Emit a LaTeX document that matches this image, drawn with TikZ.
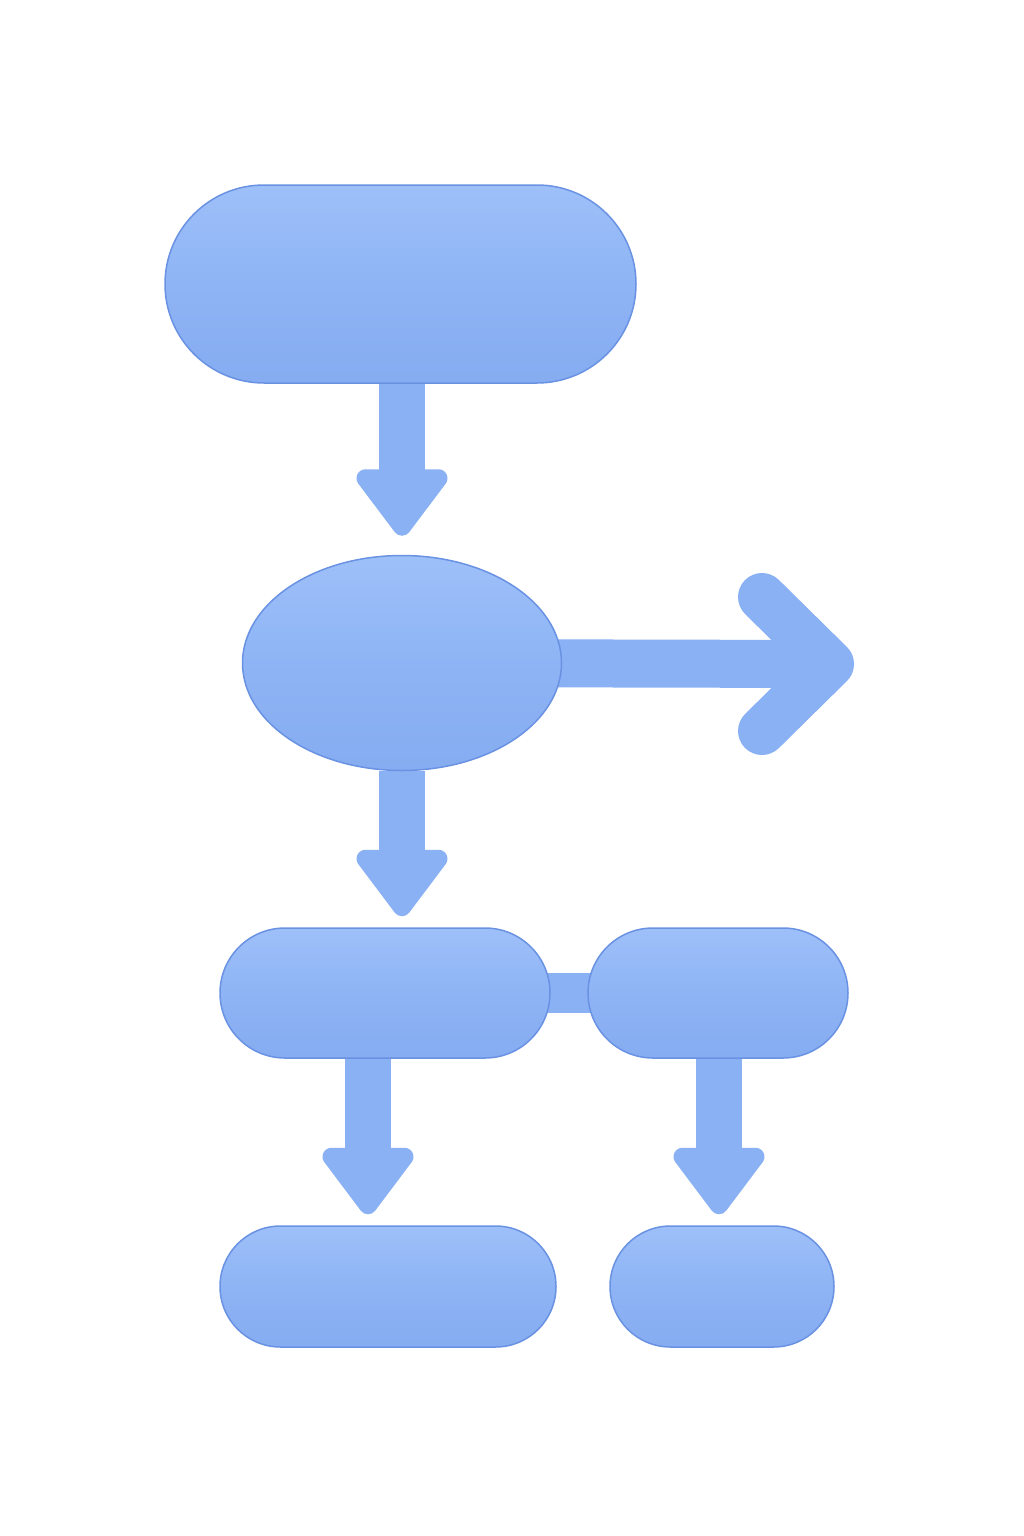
\documentclass[tikz,border=0pt]{standalone}
\usetikzlibrary{arrows.meta,shapes.geometric,backgrounds,calc}
\definecolor{fillB}{HTML}{8EB4F5}
\definecolor{lightB}{HTML}{9EC0F9}
\definecolor{darkB}{HTML}{86ACF1}
\definecolor{edgeB}{HTML}{6A92E3}
\definecolor{shaftB}{HTML}{8AB1F3}
\tikzset{
  pill/.style n args={3}{rectangle, rounded corners=#3, minimum width=#1, minimum height=#2,
    inner sep=0pt, draw=edgeB, line width=1.5pt, top color=lightB, bottom color=darkB, middle color=fillB},
  oval/.style={ellipse, inner sep=0pt, draw=edgeB, line width=1.5pt, top color=lightB, bottom color=darkB, middle color=fillB},
  downconn/.style={draw=shaftB, line width=46pt,
    -{Triangle[width=104pt,length=73pt,round,line width=18pt,color=shaftB]}},
  barconn/.style={draw=shaftB, line width=40pt},
  rightconn/.style={draw=shaftB, line width=48pt},
  chevron/.style={draw=shaftB, line width=48pt, line cap=round, line join=round}
}
\begin{document}
\begin{tikzpicture}[x=1pt,y=-1pt]
\useasboundingbox (0,0) rectangle (1024,1536);
\node[pill={471pt}{198pt}{99pt}] (top) at (400.5,284) {};
\node[oval, minimum width=319pt, minimum height=215pt] (el) at (402,663) {};
\node[pill={330pt}{130pt}{65pt}] (ml) at (385,993) {};
\node[pill={260pt}{130pt}{65pt}] (mr) at (718,993) {};
\node[pill={336pt}{121pt}{60.5pt}] (bl) at (388,1286.5) {};
\node[pill={224pt}{121pt}{60.5pt}] (br) at (722,1286.5) {};
\coordinate (rt) at (830,664);
\begin{scope}[on background layer]
\draw[downconn, shorten >=19pt] (top.south -| el) -- (el.north);
\draw[downconn, shorten >=11pt] (el.south) -- (ml.north -| el);
\draw[downconn, shorten >=11pt] (ml.south -| 368,0) -- (bl.north -| 368,0);
\draw[downconn, shorten >=11pt] (mr.south -| 719,0) -- (br.north -| 719,0);
\draw[barconn] (ml.center) -- (mr.center);
\draw[rightconn] (el.center) -- (rt);
\draw[chevron] ($(rt)+(-68,-67)$) -- (rt) -- ($(rt)+(-68,67)$);
\end{scope}
\end{tikzpicture}
\end{document}
